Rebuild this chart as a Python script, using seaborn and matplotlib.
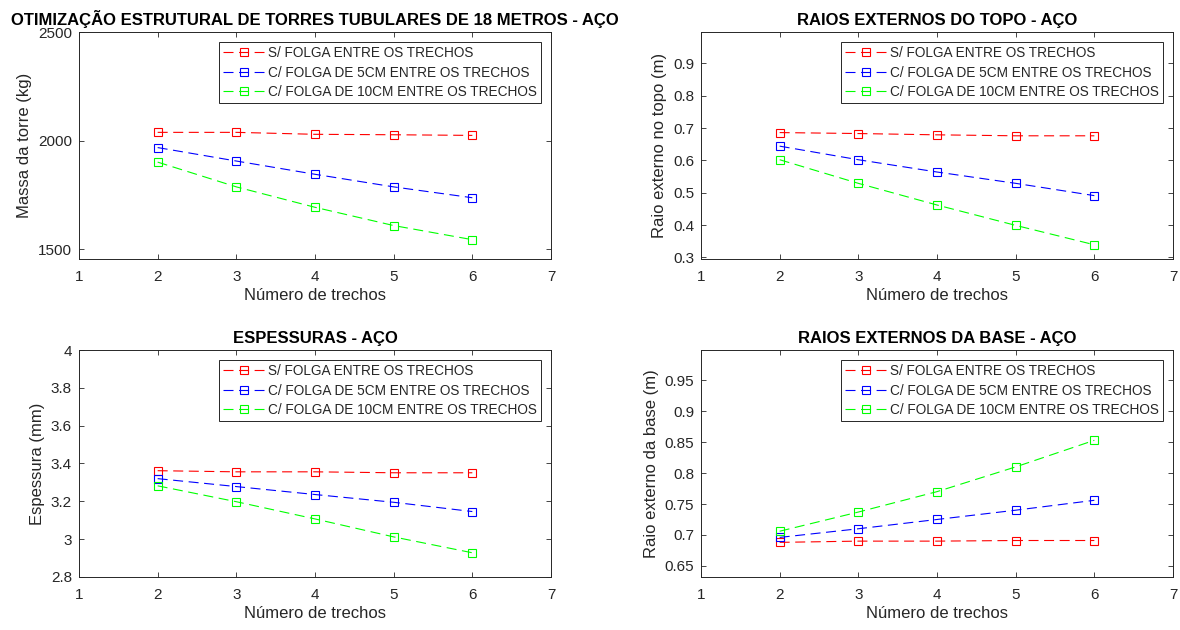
import numpy as np
import pandas as pd
import matplotlib
matplotlib.use("Agg")
import matplotlib.pyplot as plt
import seaborn as sns
from matplotlib.ticker import FormatStrFormatter

sns.set_theme(style="white")
plt.rcParams['font.family'] = ['Liberation Sans', 'DejaVu Sans']
plt.rcParams['axes.unicode_minus'] = False

# dados
trechos = [2, 3, 4, 5, 6]
series = ["S/ FOLGA ENTRE OS TRECHOS",
          "C/ FOLGA DE 5CM ENTRE OS TRECHOS",
          "C/ FOLGA DE 10CM ENTRE OS TRECHOS"]
cores = ["#ff0000", "#0000ff", "#00ff00"]

massa_s = [2038, 2038, 2029, 2027, 2024]
massa_5 = [1968, 1906, 1845, 1787, 1737]
massa_10 = [1901, 1787, 1693, 1609, 1544]

topo_s = [0.686, 0.683, 0.679, 0.676, 0.676]
topo_5 = [0.644, 0.602, 0.564, 0.529, 0.491]
topo_10 = [0.602, 0.529, 0.462, 0.399, 0.339]

esp_s = [3.362, 3.356, 3.356, 3.351, 3.351]
esp_5 = [3.320, 3.278, 3.236, 3.195, 3.146]
esp_10 = [3.282, 3.198, 3.107, 3.012, 2.928]

base_s = [0.688, 0.690, 0.690, 0.691, 0.691]
base_5 = [0.696, 0.710, 0.725, 0.740, 0.756]
base_10 = [0.706, 0.737, 0.770, 0.810, 0.853]

paineis = [
    ("OTIMIZAÇÃO ESTRUTURAL DE TORRES TUBULARES DE 18 METROS - AÇO", "Massa da torre (kg)",
     [massa_s, massa_5, massa_10], (1455, 2500), [1500, 2000, 2500]),
    ("RAIOS EXTERNOS DO TOPO - AÇO", "Raio externo no topo (m)",
     [topo_s, topo_5, topo_10], (0.295, 0.997), [0.3, 0.4, 0.5, 0.6, 0.7, 0.8, 0.9]),
    ("ESPESSURAS - AÇO", "Espessura (mm)",
     [esp_s, esp_5, esp_10], (2.8, 4.0), [2.8, 3.0, 3.2, 3.4, 3.6, 3.8, 4.0]),
    ("RAIOS EXTERNOS DA BASE - AÇO", "Raio externo da base (m)",
     [base_s, base_5, base_10], (0.632, 0.999), [0.65, 0.7, 0.75, 0.8, 0.85, 0.9, 0.95]),
]

# posicoes dos eixos em pixels (esq, topo)
W, H = 1180, 630
pos_px = [(79, 32), (701, 32), (79, 350), (701, 350)]
aw, ah = 472, 227

cinza = "#262626"
fig = plt.figure(figsize=(11.8, 6.3), dpi=100)

for (titulo, ylab, dados, ylim, yticks), (px, py) in zip(paineis, pos_px):
    ax = fig.add_axes([px / W, (H - py - ah) / H, aw / W, ah / H])
    for nome, cor, vals in zip(series, cores, dados):
        df = pd.DataFrame({"trechos": trechos, "valor": vals})
        sns.lineplot(data=df, x="trechos", y="valor", ax=ax, color=cor, linewidth=0.8,
                     dashes=False, marker="s", markersize=5.5, markerfacecolor="none",
                     markeredgecolor=cor, markeredgewidth=0.8, label=nome)
    for ln in ax.get_lines():
        ln.set_linestyle((0, (9, 5)))
    ax.set_xlim(1, 7)
    ax.set_xticks(range(1, 8))
    ax.set_ylim(*ylim)
    ax.set_yticks(yticks)
    ax.yaxis.set_major_formatter(FormatStrFormatter('%g'))
    ax.set_title(titulo, fontsize=12, fontweight="bold", color="black", pad=5)
    ax.set_xlabel("Número de trechos", fontsize=12, color=cinza, labelpad=3)
    ax.set_ylabel(ylab, fontsize=12, color=cinza)
    ax.tick_params(direction="in", length=3.5, width=0.6, color=cinza, labelcolor=cinza,
                   labelsize=11, top=True, right=True, bottom=True, left=True)
    ax.tick_params(axis="x", pad=8)
    ax.tick_params(axis="y", pad=5)
    for sp in ax.spines.values():
        sp.set_color(cinza)
        sp.set_linewidth(0.7)
    leg = ax.legend(loc="upper right", bbox_to_anchor=(0.979, 0.956), borderaxespad=0,
                    fontsize=9.8, frameon=True, fancybox=False, framealpha=1,
                    edgecolor=cinza, handlelength=3.0, handletextpad=0.3,
                    labelspacing=0.4, borderpad=0.3)
    leg.get_frame().set_linewidth(0.7)
    for t in leg.get_texts():
        t.set_color(cinza)

fig.savefig("out.png", dpi=100)
